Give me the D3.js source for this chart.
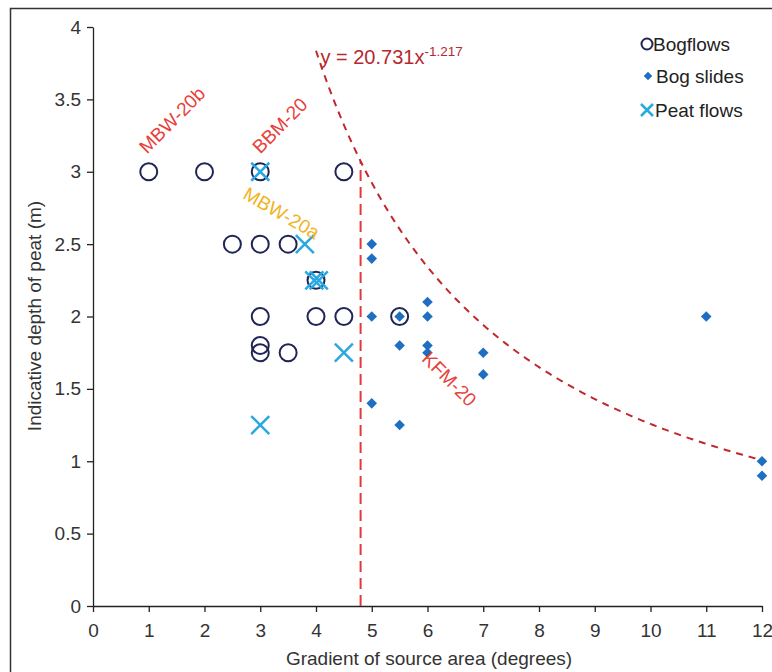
<!DOCTYPE html>
<html><head><meta charset="utf-8">
<script src="https://cdn.jsdelivr.net/npm/d3@7"></script>
<style>body{margin:0;background:#fff;font-family:"Liberation Sans",Arial,sans-serif}</style>
</head><body>
<svg id="c" width="772" height="672"></svg>
<script>
const xTicks = [0,1,2,3,4,5,6,7,8,9,10,11,12];
const yTicks = [0,0.5,1,1.5,2,2.5,3,3.5,4];
const bogflows = [[1,3],[2,3],[3,3],[4.5,3],[2.5,2.5],[3,2.5],[3.5,2.5],[4,2.25],[3,2],[4,2],[4.5,2],[5.5,2],[3,1.8],[3,1.75],[3.5,1.75]];
const bogSlides = [[5,2.5],[5,2.4],[5,2],[5.5,2],[5.5,1.8],[5,1.4],[5.5,1.25],[6,2.1],[6,2],[6,1.8],[6,1.75],[7,1.75],[7,1.6],[11,2],[12,1],[12,0.9]];
const peatFlows = [[3,3],[3.8,2.5],[3.97,2.25],[4.05,2.25],[4.5,1.75],[3,1.25]];
const thresholdX = 4.8;
const coefA = 20.731, coefB = -1.217;
const labels = [
  {t:"MBW-20b", x:0.97, y:3.12, rot:-45, c:"#e8403a"},
  {t:"BBM-20", x:3.0, y:3.12, rot:-45, c:"#e8403a"},
  {t:"MBW-20a", x:2.67, y:2.82, rot:30, c:"#f2b21c"},
  {t:"KFM-20", x:5.88, y:1.7, rot:45, c:"#e8403a"}
];

const svg = d3.select("#c");
const x = d3.scaleLinear().domain([0,12]).range([93,762]);
const y = d3.scaleLinear().domain([0,4]).range([606,27]);
const FS = "19px";

svg.append("rect").attr("x",10.5).attr("y",8.5).attr("width",800).attr("height",700)
  .attr("fill","none").attr("stroke","#333").attr("stroke-width",1.5);

const xa = svg.append("g").attr("transform","translate(0,606)")
  .call(d3.axisBottom(x).tickValues(xTicks).tickSize(6).tickSizeOuter(0).tickFormat(d3.format("d")));
const ya = svg.append("g").attr("transform","translate(93,0)")
  .call(d3.axisLeft(y).tickValues(yTicks).tickSize(6).tickSizeOuter(0).tickFormat(d=>String(d)));
[xa,ya].forEach(a=>{
  a.selectAll("path,line").attr("stroke","#222").attr("stroke-width",1.3);
  a.selectAll("text").attr("fill","#333").style("font-family","Liberation Sans, Arial, sans-serif").style("font-size",FS);
});
xa.selectAll("text").attr("y",18).attr("dy","0.71em");
ya.selectAll("text").attr("x",-12);

svg.append("text").attr("x",429).attr("y",665).attr("text-anchor","middle")
  .attr("fill","#333").style("font-size",FS).text("Gradient of source area (degrees)");
svg.append("text").attr("transform","translate(41,316) rotate(-90)").attr("text-anchor","middle")
  .attr("fill","#333").style("font-size",FS).text("Indicative depth of peat (m)");

// threshold vertical line
const fy = v => coefA*Math.pow(v,coefB);
svg.append("line").attr("x1",x(thresholdX)).attr("x2",x(thresholdX))
  .attr("y1",y(0)).attr("y2",y(fy(thresholdX)))
  .attr("stroke","#e23a3a").attr("stroke-width",2).attr("stroke-dasharray","11,6");
// power curve
const xs = d3.range(4,12.001,0.05);
svg.append("path").datum(xs)
  .attr("d",d3.line().x(d=>x(d)).y(d=>y(fy(d))))
  .attr("fill","none").attr("stroke","#c0282e").attr("stroke-width",2).attr("stroke-dasharray","7,6");

const eq = svg.append("text").attr("x",x(4.08)).attr("y",64).attr("fill","#b5292f").style("font-size","20px");
eq.append("tspan").text("y = 20.731x");
eq.append("tspan").attr("dy",-8).style("font-size","13.5px").text("-1.217");

// bogflows circles
svg.append("g").selectAll("circle").data(bogflows).join("circle")
  .attr("cx",d=>x(d[0])).attr("cy",d=>y(d[1])).attr("r",8.5)
  .attr("fill","none").attr("stroke","#1f2555").attr("stroke-width",2);
// bog slides diamonds
svg.append("g").selectAll("path").data(bogSlides).join("path")
  .attr("transform",d=>`translate(${x(d[0])},${y(d[1])}) rotate(45)`)
  .attr("d",d3.symbol().type(d3.symbolSquare).size(56))
  .attr("fill","#1e6fc1");
// peat flows X
svg.append("g").selectAll("path").data(peatFlows).join("path")
  .attr("transform",d=>`translate(${x(d[0])},${y(d[1])})`)
  .attr("d","M-9,-9L9,9M-9,9L9,-9")
  .attr("stroke","#2aa8e0").attr("stroke-width",2.5).attr("fill","none");

// labels
svg.append("g").selectAll("text").data(labels).join("text")
  .attr("transform",d=>`translate(${x(d.x)},${y(d.y)}) rotate(${d.rot})`)
  .attr("fill",d=>d.c).style("font-size",FS).text(d=>d.t);

// legend
const lg = svg.append("g");
const lx = 647;
lg.append("circle").attr("cx",lx).attr("cy",44).attr("r",5.5).attr("fill","none").attr("stroke","#1f2555").attr("stroke-width",2);
lg.append("path").attr("transform",`translate(${lx+1},76) rotate(45)`).attr("d",d3.symbol().type(d3.symbolSquare).size(36)).attr("fill","#1e6fc1");
lg.append("path").attr("transform",`translate(${lx},110)`).attr("d","M-6,-6L6,6M-6,6L6,-6").attr("stroke","#2aa8e0").attr("stroke-width",2.5);
[["Bogflows",44,lx+6],["Bog slides",76,lx+9],["Peat flows",110,lx+8]].forEach(([t,yy,tx])=>{
  lg.append("text").attr("x",tx).attr("y",yy+7).attr("fill","#222").style("font-size",FS).text(t);
});
</script>
</body></html>
